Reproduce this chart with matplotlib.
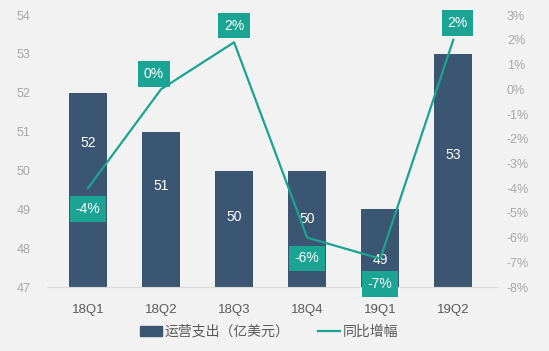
import matplotlib.pyplot as plt
from matplotlib.patches import Patch
from matplotlib.lines import Line2D

plt.rcParams['font.family'] = ['Liberation Sans', 'Noto Sans CJK SC', 'DejaVu Sans']

# datos
trimestres = ['18Q1', '18Q2', '18Q3', '18Q4', '19Q1', '19Q2']
gastos = [52, 51, 50, 50, 49, 53]
gastos_txt = ['52', '51', '50', '50', '49', '53']
altura_txt = [50.7, 49.6, 48.8, 48.75, 47.7, 50.4]
crecimiento = [-4.0, 0.0, 1.9, -6.0, -6.85, 2.0]
crecimiento_txt = ['-4%', '0%', '2%', '-6%', '-7%', '2%']
desplaz = [(0, -15), (-5, 11), (0, 12), (0, -15), (0, -18), (3, 12)]

fondo = '#f2f2f2'
azul = '#3b5672'
verde = '#1ba394'

fig = plt.figure(figsize=(5.49, 3.51), dpi=100, facecolor=fondo)
ax = fig.add_axes([0.0856, 0.182, 0.82, 0.775], facecolor=fondo)
x = list(range(len(trimestres)))

ax.bar(x, [g - 47 for g in gastos], bottom=47, width=0.52, color=azul, zorder=2)
for i in x:
    ax.text(i, altura_txt[i], gastos_txt[i], color='white', fontsize=10,
            ha='center', va='center', zorder=3)

ax.set_ylim(47, 54)
ax.set_xlim(-0.56, 5.6)
ax.set_xticks(x)
ax.set_xticklabels(trimestres, color='#595959', fontsize=9.5)
ax.tick_params(axis='y', colors='#a6a6a6', labelsize=9, length=0, pad=12)
ax.tick_params(axis='x', length=0, pad=12)
for s in ['top', 'right', 'left']:
    ax.spines[s].set_visible(False)
ax.spines['bottom'].set_color('#d9d9d9')

ax2 = ax.twinx()
ax2.plot(x, crecimiento, color=verde, linewidth=1.6, zorder=4)
ax2.set_ylim(-8, 3)
ax2.set_yticks(range(-8, 4))
ax2.set_yticklabels([f'{v}%' for v in range(-8, 4)])
ax2.tick_params(axis='y', colors='#a6a6a6', labelsize=9, length=0, pad=7)
for s in ['top', 'right', 'left', 'bottom']:
    ax2.spines[s].set_visible(False)

for i in x:
    ax2.annotate(crecimiento_txt[i], (i, crecimiento[i]), xytext=desplaz[i],
                 textcoords='offset points', ha='center', va='center',
                 color='white', fontsize=10, zorder=5,
                 bbox=dict(boxstyle='square,pad=0.42', fc=verde, ec='none'))

handles = [Patch(color=azul), Line2D([0], [0], color=verde, linewidth=1.6)]
fig.legend(handles, ['运营支出（亿美元）', '同比增幅'], loc='lower center',
           bbox_to_anchor=(0.49, 0.0), ncol=2, frameon=False, fontsize=10,
           labelcolor='#595959', handlelength=1.6, handletextpad=0.2,
           columnspacing=2.0)

plt.savefig('out.png', dpi=100, facecolor=fondo)
